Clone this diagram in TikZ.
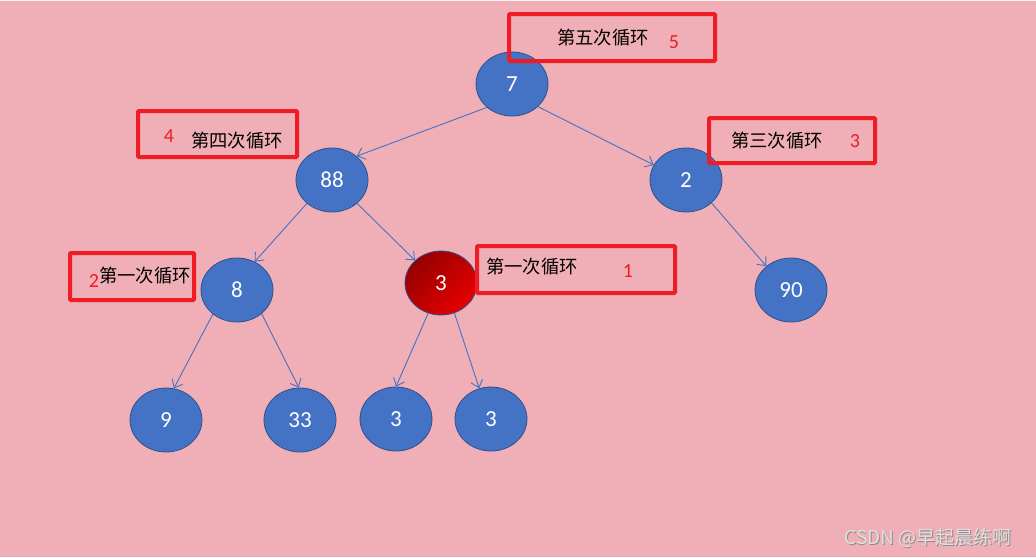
\documentclass[tikz,border=0pt]{standalone}
\usepackage{fontspec}
\setmainfont{Carlito}
\newfontfamily\cjk{Noto Sans CJK SC}
\usetikzlibrary{shapes.geometric,arrows.meta}
\definecolor{bg}{HTML}{F0AEB6}
\definecolor{nodeblue}{HTML}{4472C4}
\definecolor{nodeedge}{HTML}{2F528F}
\definecolor{boxred}{HTML}{EE1C25}
\tikzset{
  tnode/.style={ellipse,draw=nodeedge,line width=0.8pt,fill=nodeblue,minimum width=72pt,minimum height=64pt,inner sep=0pt,text=white,font=\fontsize{23}{23}\selectfont},
  redtnode/.style={ellipse,draw=nodeedge,line width=0.8pt,top color={rgb,255:red,150;green,0;blue,0},bottom color={rgb,255:red,230;green,0;blue,0},shading angle=45,minimum width=72pt,minimum height=64pt,inner sep=0pt,text=white,font=\fontsize{23}{23}\selectfont},
  edge/.style={draw=nodeblue,line width=0.9pt,-{Straight Barb[length=7pt,width=12pt,line width=0.9pt]}},
  loopbox/.style={draw=boxred,line width=4pt,rounded corners=1pt},
  cjktext/.style={font=\cjk\fontsize{18.3}{19}\selectfont,text=black,inner sep=0pt},
  numtext/.style={font=\fontsize{20}{20}\selectfont,text=boxred,inner sep=0pt},
  wmark/.style={font=\cjk\fontsize{19}{19}\selectfont,inner sep=0pt},
}
\begin{document}
\begin{tikzpicture}[x=1pt,y=-1pt]
\fill[bg] (0,0) rectangle (1036,557);
\useasboundingbox (0,0) rectangle (1036,557);
\draw[white!85!bg,line width=1pt] (0,0.5) -- (1036,0.5);
% tree nodes
\node[tnode] (n7) at (512,84) {7};
\node[tnode] (n88) at (332,180) {88};
\node[tnode] (n2) at (686,180) {2};
\node[tnode] (n8) at (237,290) {8};
\node[redtnode] (n3r) at (441,283) {3};
\node[tnode] (n90) at (791,290) {90};
\node[tnode] (n9) at (166,420) {9};
\node[tnode] (n33) at (300,420) {33};
\node[tnode] (n3a) at (396,419) {3};
\node[tnode] (n3b) at (491,419) {3};
% edges
\draw[edge] (n7.223) -- (n88.44);
\draw[edge] (n7.319) -- (n2.155);
\draw[edge] (n88.223) -- (n8.58);
\draw[edge] (n88.317) -- (n3r.139);
\draw[edge] (n2.318) -- (n90.136);
\draw[edge] (n8.225) -- (n9.76);
\draw[edge] (n8.316) -- (n33.92);
\draw[edge] (n3r.247) -- (n3a.90);
\draw[edge] (n3r.294) -- (n3b.111);
% loop boxes
\draw[loopbox] (509,14) rectangle (715,61);
\node[cjktext] (t5) at (603,38) {第五次循环};
\node[numtext] (k5) at (674,42) {5};
\draw[loopbox] (138,111) rectangle (297,157);
\node[numtext] (k4) at (169,136) {4};
\node[cjktext] (t4) at (237,141) {第四次循环};
\draw[loopbox] (709,118) rectangle (875,163);
\node[cjktext] (t3) at (777,141) {第三次循环};
\node[numtext] (k3) at (855,141) {3};
\draw[loopbox] (70,253) rectangle (194,300);
\node[numtext] (k2) at (94,281) {2};
\node[cjktext] (t2) at (145,276) {第一次循环};
\draw[loopbox] (477,246) rectangle (675,293);
\node[cjktext] (t1) at (532,267) {第一次循环};
\node[numtext] (k1) at (628,271) {1};
% watermark
\node[wmark,text=black!45] at (928.8,538.8) {CSDN @早起晨练啊};
\node[wmark,text=white!88!black] (wm) at (928,538) {CSDN @早起晨练啊};
\end{tikzpicture}
\end{document}
